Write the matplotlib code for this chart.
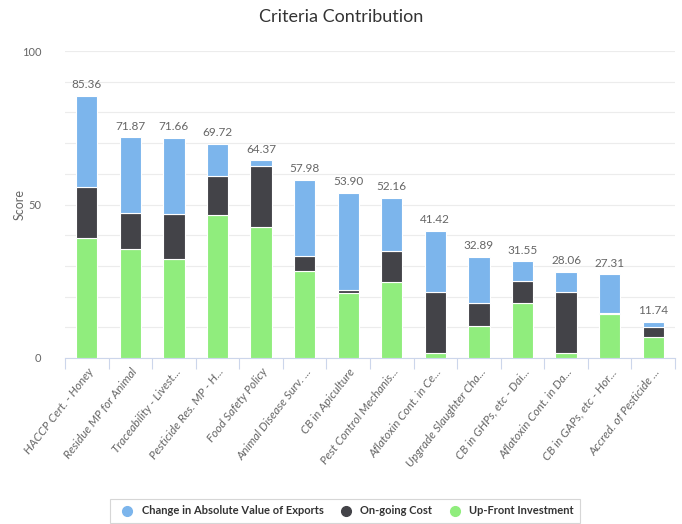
import numpy as np
import matplotlib.pyplot as plt
from matplotlib.lines import Line2D

categories = [
    "HACCP Cert. - Honey", "Residue MP for Animal", "Traceability - Livest...",
    "Pesticide Res. MP - H...", "Food Safety Policy", "Animal Disease Surv. ...",
    "CB in Apiculture", "Pest Control Mechanis...", "Aflatoxin Cont. in Ce...",
    "Upgrade Slaughter Cha...", "CB in GHPs, etc - Dai...", "Aflatoxin Cont. in Da...",
    "CB in GAPs, etc - Hor...", "Accred. of Pesticide ...",
]
totals = [85.36, 71.87, 71.66, 69.72, 64.37, 57.98, 53.90, 52.16, 41.42,
          32.89, 31.55, 28.06, 27.31, 11.74]
upfront = [39.2, 35.4, 32.1, 46.5, 42.8, 28.4, 21.3, 24.8, 1.5,
           10.5, 17.8, 1.5, 14.2, 6.9]
ongoing = [16.6, 11.9, 14.8, 12.9, 19.7, 4.9, 0.9, 10.1, 20.1,
           7.5, 7.3, 20.1, 0.6, 3.3]
# exports part is whatever remains of the stated total
exports = [t - u - o for t, u, o in zip(totals, upfront, ongoing)]

series_names = ["Change in Absolute Value of Exports", "On-going Cost", "Up-Front Investment"]
colors = ["#7cb5ec", "#434348", "#90ed7d"]

plt.rcParams["font.family"] = ["Lato", "DejaVu Sans"]

fig = plt.figure(figsize=(6.82, 5.24), dpi=100)
ax = fig.add_axes([65 / 682, 1 - 358 / 524, 610 / 682, 307 / 524])

x = np.arange(len(categories))
w = 0.49
edge = dict(edgecolor="white", linewidth=0.8)
ax.bar(x, upfront, w, color=colors[2], zorder=3, **edge)
ax.bar(x, ongoing, w, bottom=upfront, color=colors[1], zorder=3, **edge)
bottom2 = [u + o for u, o in zip(upfront, ongoing)]
ax.bar(x, exports, w, bottom=bottom2, color=colors[0], zorder=3, **edge)

for xi, t in zip(x, totals):
    ax.annotate(f"{t:.2f}", (xi, t), xytext=(0, 4), textcoords="offset points",
                ha="center", va="bottom", fontsize=8.5, color="#666666")

ax.set_xlim(-0.5, len(categories) - 0.5)
ax.set_ylim(0, 100)
ax.set_yticks([0, 50, 100])
ax.set_yticks(np.arange(0, 101, 10), minor=True)
ax.grid(axis="y", which="both", color="#ececec", linewidth=0.8, zorder=0)
ax.tick_params(axis="y", which="both", length=0, labelsize=8, labelcolor="#666666", pad=17)

ax.set_xticks(x)
ax.set_xticklabels(categories, rotation=52, ha="right", rotation_mode="anchor",
                   fontsize=8.5, color="#666666", style="italic")
ax.tick_params(axis="x", which="major", length=0, pad=6)
ax.set_xticks(np.arange(-0.5, len(categories), 1), minor=True)
ax.tick_params(axis="x", which="minor", length=8, color="#ccd6eb", width=0.8)

for s in ["top", "right", "left"]:
    ax.spines[s].set_visible(False)
ax.spines["bottom"].set_color("#ccd6eb")

fig.text(20 / 682, 1 - 205 / 524, "Score", rotation=90, ha="center", va="center",
         fontsize=9, color="#666666")
fig.text(0.5, 1 - 17 / 524, "Criteria Contribution", ha="center", va="center",
         fontsize=13, color="#333333")

handles = [Line2D([], [], marker="o", linestyle="", markersize=7,
                  markerfacecolor=c, markeredgecolor=c) for c in colors]
leg = fig.legend(handles, series_names, loc="center", bbox_to_anchor=(345 / 682, 1 - 511 / 524),
                 ncol=3, frameon=True, fontsize=8, handletextpad=0.3, columnspacing=1.0,
                 fancybox=False, borderpad=0.6)
leg.get_frame().set_edgecolor("#cccccc")
leg.get_frame().set_linewidth(0.8)
for t in leg.get_texts():
    t.set_color("#333333")
    t.set_fontweight("bold")

fig.savefig("out.png", dpi=100, facecolor="white")
